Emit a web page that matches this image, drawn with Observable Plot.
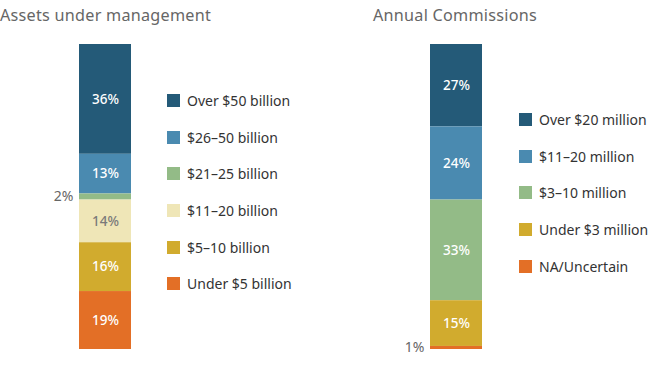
<!DOCTYPE html>
<html><head><meta charset="utf-8">
<script src="https://cdn.jsdelivr.net/npm/d3@7"></script>
<script src="https://cdn.jsdelivr.net/npm/@observablehq/plot@0.6"></script>
<style>
body{margin:0;background:#fff;font-family:"Noto Sans",sans-serif}
#wrap{position:relative;width:648px;height:367px;overflow:hidden}
.title{position:absolute;top:4px;font-size:16.2px;color:#666;white-space:nowrap;letter-spacing:0.25px}
.chart{position:absolute;top:30px}
.legend{position:absolute}
.row{height:36.7px;display:flex;align-items:center;font-size:14px;color:#333;white-space:nowrap}
.sw{width:13px;height:13px;margin-right:7px;flex:none}
</style></head>
<body>
<div id="wrap"></div>
<script>
const aumTitle = "Assets under management";
const aumCategories = ["Over $50 billion","$26–50 billion","$21–25 billion","$11–20 billion","$5–10 billion","Under $5 billion"];
const aumValues = [36,13,2,14,16,19];
const aumColors = ["#245a78","#4a8ab0","#93bb87","#efe6b7","#d1ab2e","#e36f26"];
const aumLabelColors = ["#fff","#fff","#666","#7a7a7a","#fff","#fff"];

const comTitle = "Annual Commissions";
const comCategories = ["Over $20 million","$11–20 million","$3–10 million","Under $3 million","NA/Uncertain"];
const comValues = [27,24,33,15,1];
const comColors = ["#245a78","#4a8ab0","#93bb87","#d1ab2e","#e36f26"];
const comLabelColors = ["#fff","#fff","#fff","#fff","#666"];

const wrap = document.getElementById("wrap");

function panel({title, cats, vals, colors, labelColors, left, marginLeft, titleLeft, legendLeft, legendTop}) {
  const rows = cats.map((c,i)=>({group:title, cat:c, value:vals[i], lc:labelColors[i]}));
  const t = document.createElement("div");
  t.className = "title"; t.textContent = title; t.style.left = titleLeft + "px";
  wrap.appendChild(t);
  const W = 324, barW = 52;
  const chart = Plot.plot({
    width: W, height: 337,
    marginTop: 14, marginBottom: 18, marginLeft, marginRight: W - marginLeft - barW,
    x: {axis: null, domain: [title], padding: 0},
    y: {axis: null, domain: [0,100], reverse: true},
    color: {domain: cats, range: colors},
    style: {fontFamily: '"Noto Sans", sans-serif', background: "transparent"},
    marks: [
      Plot.barY(rows, {x: "group", y: "value", fill: "cat"}),
      Plot.text(rows, Plot.stackY({x: "group", y: "value",
        text: d => d.value >= 5 && d.lc === "#fff" ? d.value + "%" : "",
        fill: "white", fontSize: 13.5, fontWeight: 500})),
      Plot.text(rows, Plot.stackY({x: "group", y: "value",
        text: d => d.value >= 5 && d.lc !== "#fff" ? d.value + "%" : "",
        fill: "#7a7a7a", fontSize: 13.5, fontWeight: 500})),
      Plot.text(rows, Plot.stackY({x: "group", y: "value",
        text: d => d.value < 5 ? d.value + "%" : "",
        fill: "#666", fontSize: 14, textAnchor: "end", dx: -barW/2 - 6}))
    ]
  });
  chart.classList.add("chart");
  chart.style.left = left + "px";
  wrap.appendChild(chart);
  const lg = document.createElement("div");
  lg.className = "legend"; lg.style.left = legendLeft + "px"; lg.style.top = legendTop + "px";
  cats.forEach((c,i)=>{
    const r = document.createElement("div"); r.className = "row";
    const s = document.createElement("span"); s.className = "sw"; s.style.background = colors[i];
    r.appendChild(s); r.appendChild(document.createTextNode(c));
    lg.appendChild(r);
  });
  wrap.appendChild(lg);
}

panel({title: aumTitle, cats: aumCategories, vals: aumValues, colors: aumColors, labelColors: aumLabelColors,
  left: 0, marginLeft: 79, titleLeft: 0, legendLeft: 167, legendTop: 82});
panel({title: comTitle, cats: comCategories, vals: comValues, colors: comColors, labelColors: comLabelColors,
  left: 324, marginLeft: 106, titleLeft: 373, legendLeft: 519, legendTop: 101});
</script>
</body></html>
